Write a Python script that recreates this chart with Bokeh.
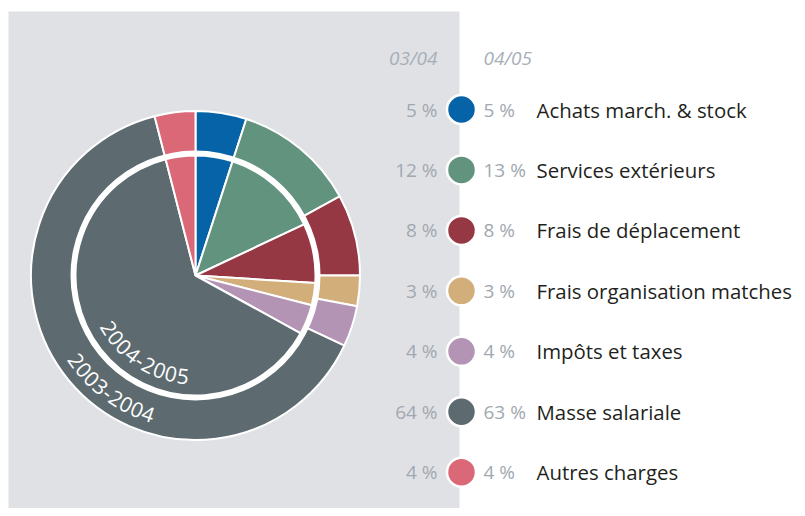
import math
from bokeh.plotting import figure
from bokeh.models import Range1d
from bokeh.core.properties import value
from bokeh.embed import file_html
from bokeh.resources import INLINE

# ---- data ----
categories = ["Achats march. & stock", "Services extérieurs", "Frais de déplacement",
              "Frais organisation matches", "Impôts et taxes", "Masse salariale", "Autres charges"]
values_0304 = [5, 12, 8, 3, 4, 64, 4]   # outer ring
values_0405 = [5, 13, 8, 3, 4, 63, 4]   # inner pie
header_0304 = "03/04"
header_0405 = "04/05"
ring_label_outer = "2003-2004"
ring_label_inner = "2004-2005"

colors = ["#0763A8", "#62937F", "#963843", "#D2AE7A", "#B394B4", "#5D6B70", "#DA6877"]

W, H = 797, 508
def sx(x):  # reference pixel x -> data
    return x
def sy(y):  # reference pixel y -> data
    return H - y

p = figure(width=W, height=H, x_range=Range1d(0, W), y_range=Range1d(0, H),
           output_backend="svg", toolbar_location=None, min_border=0)
p.axis.visible = False
p.grid.visible = False
p.outline_line_color = None
p.background_fill_color = "white"
p.border_fill_color = "white"

# grey panel
p.quad(left=[sx(8)], right=[sx(459)], bottom=[0], top=[sy(11)],
       fill_color="#E0E1E5", line_color=None)

cx, cy = sx(195), sy(275)

def wedge_angles(vals):
    tot = sum(vals)
    starts, ends = [], []
    c = 0.0
    for v in vals:
        starts.append(math.pi / 2 - 2 * math.pi * c / tot)
        c += v
        ends.append(math.pi / 2 - 2 * math.pi * c / tot)
    return starts, ends

so, eo = wedge_angles(values_0304)
p.wedge(x=cx, y=cy, radius=164.5, start_angle=so, end_angle=eo, direction="clock",
        fill_color=colors, line_color="white", line_width=2)
# white separating ring
p.circle(x=[cx], y=[cy], radius=125, fill_color="white", line_color=None)
si, ei = wedge_angles(values_0405)
p.wedge(x=cx, y=cy, radius=120, start_angle=si, end_angle=ei, direction="clock",
        fill_color=colors, line_color="white", line_width=2)

# curved ring labels
def arc_text(label, r, center_deg, fs):
    widths = [(0.33 if ch == "-" else 0.572) * fs for ch in label]
    total = sum(widths)
    xs, ys, angs = [], [], []
    pos = -total / 2
    c = math.radians(center_deg)
    for w in widths:
        mid = pos + w / 2
        th = c + mid / r
        xs.append(cx + r * math.cos(th))
        ys.append(cy + r * math.sin(th))
        angs.append(th + math.pi / 2)
        pos += w
    p.text(x=xs, y=ys, text=list(label), angle=angs, text_align="center",
           text_baseline="middle", text_color="white", text_font_size=f"{fs}px",
           text_font=value("Open Sans"))

arc_text(ring_label_inner, 101, 237.0, 21)
arc_text(ring_label_outer, 146, 233.3, 21)

# legend
ys_leg = [sy(109 + i * 60.45) for i in range(len(categories))]
p.circle(x=[sx(461)] * len(categories), y=ys_leg, radius=14.5, fill_color=colors,
         line_color="white", line_width=2.5)
p.text(x=[sx(437)] * len(categories), y=ys_leg, text=[f"{v} %" for v in values_0304],
       text_align="right", text_baseline="middle", text_color="#A0A8B0",
       text_font_size="19px", text_font=value("Open Sans"))
p.text(x=[sx(483)] * len(categories), y=ys_leg, text=[f"{v} %" for v in values_0405],
       text_align="left", text_baseline="middle", text_color="#A0A8B0",
       text_font_size="19px", text_font=value("Open Sans"))
p.text(x=[sx(536)] * len(categories), y=ys_leg, text=categories,
       text_align="left", text_baseline="middle", text_color="#231F20",
       text_font_size="20.4px", text_font=value("Open Sans"))

# headers
p.text(x=[sx(437)], y=[sy(57)], text=[header_0304], text_align="right",
       text_baseline="middle", text_color="#A7AFB8", text_font_size="19px",
       text_font_style="italic", text_font=value("Open Sans"))
p.text(x=[sx(483)], y=[sy(57)], text=[header_0405], text_align="left",
       text_baseline="middle", text_color="#A7AFB8", text_font_size="19px",
       text_font_style="italic", text_font=value("Open Sans"))

open("out.html", "w").write(file_html(p, INLINE))
